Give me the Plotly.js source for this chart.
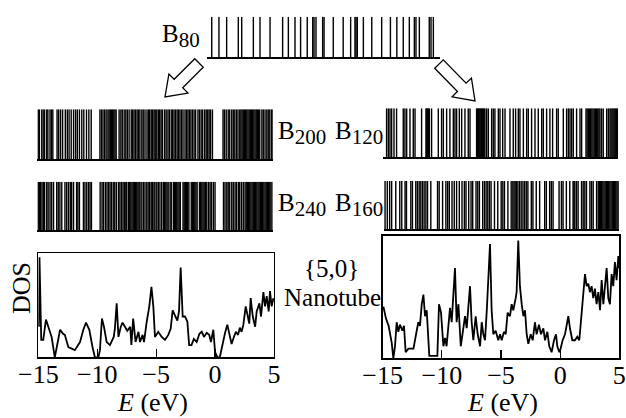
<!DOCTYPE html>
<html>
<head>
<meta charset="utf-8">
<script src="https://cdn.plot.ly/plotly-3.0.1.min.js"></script>
<style>html,body{margin:0;padding:0;background:#fff}#chart{width:626px;height:418px}</style>
</head>
<body>
<div id="chart"></div>
<script>
// ---------------- data (energies in eV) ----------------
const levelsB80 = [-14.57,-13.95,-13.29,-12.29,-12.0,-11.0,-10.43,-9.57,-8.49,-8.0,-7.43,-6.95,-6.38,-5.91,-5.8,-5.63,
  -5.06,-4.94,-4.15,-3.3,-2.66,-2.29,-2.2,-2.09,-1.57,-0.85,0.0,0.75,1.3,1.85,2.37,2.8,2.94,3.23,4.08,4.23,4.43];

const levelsB200 = [-14.92,-14.82,-14.62,-14.5,-14.38,-14.2,-14.1,-13.92,-13.8,-13.68,
  -13.32,-13.18,-13.02,-12.85,-12.62,-12.45,-12.3,-12.12,-11.92,-11.75,-11.6,-11.42,-11.22,-11.05,-10.82,-10.62,-10.42,
  -9.68,-9.55,-9.42,-9.28,-9.15,-9.0,-8.9,-8.8,-8.7,-8.6,-8.5,-8.4,-8.3,
  -8.05,-7.9,-7.78,-7.62,-7.48,-7.35,-7.2,
  -7.02,-6.9,-6.78,-6.65,-6.52,-6.4,-6.28,
  -6.12,-6.0,-5.85,
  -5.68,-5.55,-5.45,-5.32,-5.2,-5.08,-4.98,-4.85,-4.72,-4.6,-4.48,-4.36,
  -4.18,-4.05,-3.9,-3.78,
  -3.62,-3.5,-3.38,-3.25,-3.12,-3.0,-2.88,-2.75,-2.62,
  -2.45,-2.32,-2.2,-2.08,-1.95,-1.82,-1.68,-1.55,
  -1.35,-1.22,-1.08,-0.95,
  -0.78,-0.65,-0.52,-0.4,-0.28,-0.12,
  0.78,0.9,1.05,1.22,1.35,
  1.52,1.65,1.78,1.92,2.05,
  2.2,2.3,2.4,2.5,2.6,2.7,2.8,2.9,3.0,3.1,3.2,3.3,3.4,3.5,3.6,3.7,3.8,3.9,
  4.08,4.2,4.35,4.5,4.62,4.75,4.9,4.98];

const levelsB240 = [-14.92,-14.82,-14.72,-14.6,-14.48,-14.38,-14.2,-14.08,-13.92,-13.78,-13.62,-13.35,-13.22,-13.08,-12.92,
  -12.65,-12.5,-12.35,-12.2,-12.08,-11.92,-11.66,-11.55,-11.42,-11.08,-10.95,-10.8,-10.65,-10.52,-10.4,
  -9.66,-9.5,-9.38,-9.22,-9.08,-8.95,-8.82,-8.7,-8.55,-8.42,-8.28,
  -8.1,-7.98,-7.85,-7.72,-7.6,-7.48,-7.4,
  -7.25,-7.15,-7.05,-6.95,-6.85,-6.75,-6.65,-6.55,-6.45,-6.35,-6.27,
  -6.12,-5.98,-5.85,
  -5.7,-5.58,-5.45,-5.32,-5.2,-5.08,-5.0,
  -4.85,-4.72,-4.58,-4.43,
  -4.28,-4.18,-4.08,-3.98,-3.88,
  -3.72,-3.62,
  -3.44,-3.35,-3.25,-3.15,-3.05,-2.95,-2.85,-2.62,-2.52,-2.42,-2.32,-2.22,-2.12,-1.92,-1.82,-1.72,-1.62,-1.52,-1.42,-1.22,-1.12,-1.02,-0.92,
  -0.82,-0.7,-0.6,
  -0.45,-0.32,-0.2,
  -0.04,0.1,
  0.82,0.95,1.1,1.22,1.35,
  1.52,1.65,1.8,1.92,
  2.08,2.2,2.35,2.5,
  2.65,2.75,2.85,2.95,3.05,3.15,3.25,3.35,3.45,3.55,3.65,3.75,3.85,3.95,4.05,4.15,
  4.25,4.35,4.45,4.55,4.65,4.75,4.85,4.95];

const levelsB120 = [-14.72,-14.57,-14.43,-14.29,-14.09,-13.87,-13.3,-13.16,-13.01,-12.73,-12.45,-12.3,-11.74,
  -11.37,-11.3,-11.23,-11.15,-11.08,-10.89,-10.32,-10.04,-9.89,-9.61,-9.33,-9.04,-8.9,-8.76,-8.53,-8.33,-8.05,-7.77,-7.62,
  -7.06,-6.98,-6.91,-6.84,-6.77,-6.7,-6.63,-6.56,-6.49,-6.42,-6.35,-6.2,-6.06,-5.78,-5.64,-5.5,-5.21,-5.07,-4.84,-4.64,
  -4.22,-3.94,-3.74,-3.51,-3.37,-3.08,-2.8,-2.66,-2.38,-2.09,-1.81,-1.52,-1.38,-1.1,-0.82,-0.59,-0.25,-0.11,
  0.32,0.6,0.75,0.89,1.03,1.17,1.45,1.74,1.88,
  2.25,2.35,2.45,2.55,2.65,2.75,2.85,2.95,3.05,3.15,3.25,3.35,3.44,3.58,3.72,4.01,4.15,
  4.29,4.38,4.47,4.56,4.65,4.74,4.83,4.92];

const levelsB160 = [-14.91,-14.72,-14.52,-14.35,-14.0,-13.66,-13.49,-13.21,-13.09,-12.72,-12.58,
  -12.3,-12.16,-12.01,-11.87,-11.73,-11.59,-11.44,-11.3,-11.02,-10.45,-10.31,-10.02,-9.74,-9.59,-9.45,-9.22,-9.03,
  -8.83,-8.6,-8.37,-8.17,-8.03,-7.8,-7.6,-7.46,-7.18,-7.03,-6.89,-6.61,-6.46,-6.32,-6.18,-6.04,-5.9,-5.61,-5.33,
  -5.04,-4.9,-4.76,-4.47,-4.19,-4.05,-3.95,-3.85,-3.74,-3.62,-3.48,-3.34,-3.19,-3.05,-2.91,-2.77,-2.48,-2.34,
  -2.06,-1.77,-1.34,-1.2,-0.92,-0.78,-0.63,-0.12,0.08,0.22,0.5,0.79,1.07,1.15,1.22,1.36,1.5,1.79,1.93,2.07,2.21,
  2.5,2.64,2.78,3.07,3.21,3.3,3.4,3.5,3.6,3.7,3.8,3.9,4.0,4.1,4.2,4.3,4.4,4.5,4.6,4.7,4.8,4.9];

const dosLeftE = [-14.95,-14.9,-14.75,-14.58,-14.35,-14.15,-13.87,-13.6,-13.3,-13.15,-12.9,-12.75,-12.45,-11.9,-11.46,-11.18,
  -10.95,-10.67,-10.4,-10.2,-9.9,-9.77,-9.6,-9.43,-9.2,-8.92,-8.6,-8.5,-8.35,-8.2,-8.0,-7.85,-7.65,-7.45,-7.2,-7.1,-6.95,
  -6.75,-6.5,-6.37,-6.15,-6.03,-5.8,-5.58,-5.4,-5.24,-5.1,-4.82,-4.53,-4.25,-3.97,-3.77,-3.6,-3.4,-3.2,-3.06,-2.92,-2.75,
  -2.55,-2.35,-2.2,-2.0,-1.8,-1.56,-1.33,-1.13,-0.94,-0.71,-0.5,-0.35,-0.15,0.0,0.2,0.4,0.65,0.85,1.04,1.27,1.4,1.6,1.77,
  1.95,2.1,2.25,2.4,2.6,2.74,2.9,3.02,3.2,3.4,3.53,3.76,3.9,4.1,4.24,4.38,4.55,4.66,4.8,4.95];
const dosLeft = [0.3,0.98,0.17,0.17,0.37,0.3,0.2,0.0,0.2,0.27,0.23,0.22,0.1,0.07,0.15,0.27,
  0.34,0.27,0.1,0.0,0.0,0.07,0.38,0.3,0.15,0.12,0.2,0.28,0.53,0.2,0.3,0.34,0.3,0.26,0.3,0.12,0.38,
  0.15,0.25,0.15,0.22,0.15,0.35,0.5,0.69,0.5,0.2,0.25,0.2,0.17,0.22,0.28,0.46,0.4,0.36,0.45,0.88,0.4,
  0.4,0.35,0.12,0.12,0.18,0.15,0.23,0.25,0.2,0.24,0.22,0.15,0.27,0.05,0.0,0.0,0.15,0.24,0.32,0.2,0.13,0.2,0.25,
  0.22,0.29,0.25,0.32,0.5,0.4,0.33,0.58,0.4,0.3,0.45,0.53,0.4,0.64,0.5,0.6,0.45,0.65,0.5,0.58];

const dosRightE = [-14.94,-14.72,-14.5,-14.38,-14.24,-14.1,-13.96,-13.82,-13.68,-13.54,-13.34,-13.2,-13.06,-12.83,-12.4,-12.18,
  -11.99,-11.85,-11.7,-11.56,-11.42,-11.28,-11.14,-11.06,-10.72,-10.38,-10.24,-10.07,-9.87,-9.73,-9.6,-9.31,-9.17,-9.03,
  -8.89,-8.75,-8.6,-8.4,-8.24,-8.04,-7.9,-7.76,-7.62,-7.48,-7.34,-7.14,-6.97,-6.77,-6.63,-6.49,-6.35,-6.2,-6.04,-5.93,
  -5.79,-5.65,-5.45,-5.23,-5.08,-4.94,-4.75,-4.6,-4.44,-4.24,-4.1,-3.96,-3.76,-3.68,-3.54,-3.4,-3.25,-3.11,-2.97,-2.83,
  -2.69,-2.49,-2.32,-2.13,-1.99,-1.79,-1.62,-1.42,-1.28,-1.08,-0.92,-0.72,-0.52,-0.35,-0.24,-0.07,0.04,0.21,0.41,0.55,
  0.69,0.83,1.03,1.25,1.45,1.62,1.82,1.96,2.1,2.24,2.38,2.52,2.66,2.8,2.94,3.08,3.23,3.37,3.51,3.65,3.79,3.93,4.07,
  4.21,4.35,4.49,4.63,4.77,4.92,5.0];
const dosRight = [0.43,0.33,0.27,0.2,0.13,0.0,0.1,0.3,0.22,0.28,0.23,0.27,0.05,0.08,0.08,0.2,
  0.3,0.27,0.45,0.53,0.35,0.4,0.2,0.02,0.02,0.02,0.45,0.38,0.1,0.17,0.1,0.42,0.3,0.5,
  0.75,0.3,0.45,0.1,0.2,0.35,0.25,0.4,0.6,0.3,0.15,0.35,0.2,0.1,0.3,0.2,0.15,0.4,0.8,0.95,
  0.4,0.2,0.23,0.15,0.2,0.15,0.22,0.2,0.38,0.35,0.45,0.4,0.5,0.55,0.98,0.6,0.45,0.35,0.4,0.2,
  0.12,0.2,0.15,0.3,0.2,0.28,0.2,0.25,0.15,0.22,0.1,0.05,0.15,0.2,0.1,0.05,0.08,0.15,0.2,0.28,
  0.35,0.25,0.15,0.15,0.18,0.15,0.4,0.5,0.7,0.6,0.62,0.55,0.6,0.5,0.58,0.45,0.55,0.4,0.65,0.45,0.6,0.75,0.5,
  0.45,0.7,0.6,0.8,0.65,0.85,0.75];

const tickVals = [-15,-10,-5,0,5];
const tickText = ['\u221215','\u221210','\u22125','0','5'];

// ---------------- build ----------------
const W = 626, H = 418;
const FONT = 'Liberation Serif, Times New Roman, serif';
const px = v => v / W, py = v => 1 - v / H;

function barcode(levels, xa, ya) {
  const x = [], y = [];
  levels.forEach(e => { x.push(e, e, null); y.push(0, 1, null); });
  return {type:'scatter', mode:'lines', x, y, xaxis:xa, yaxis:ya,
          line:{color:'black', width:1.4}, hoverinfo:'skip', showlegend:false};
}
function dosTrace(E, d, xa, ya) {
  return {type:'scatter', mode:'lines', x:E, y:d, xaxis:xa, yaxis:ya,
          line:{color:'black', width:1.8}, hoverinfo:'skip', showlegend:false};
}
const traces = [
  barcode(levelsB80, 'x', 'y'),
  barcode(levelsB200, 'x2', 'y2'),
  barcode(levelsB240, 'x3', 'y3'),
  barcode(levelsB120, 'x4', 'y4'),
  barcode(levelsB160, 'x5', 'y5'),
  dosTrace(dosLeftE, dosLeft, 'x6', 'y6'),
  dosTrace(dosRightE, dosRight, 'x7', 'y7')
];

function bcX(x0, x1, ya) {
  return {domain:[px(x0), px(x1)], range:[-15,5], anchor:ya, showline:true, linecolor:'black', linewidth:1.5,
          showticklabels:false, ticks:'', showgrid:false, zeroline:false};
}
function bcY(top, bot, xa) {
  return {domain:[py(bot), py(top)], range:[0,1], anchor:xa, visible:false};
}
function dosX(x0, x1, ya) {
  return {domain:[px(x0), px(x1)], range:[-15,5], anchor:ya, showline:true, mirror:true, linecolor:'black', linewidth:1.3,
          ticks:'inside', ticklen:8, tickwidth:1.2, tickcolor:'black', tickvals:tickVals, ticktext:tickText,
          tickfont:{family:FONT, size:26, color:'black'}, ticklabelstandoff:-7, showgrid:false, zeroline:false};
}
function dosY(top, bot, xa) {
  return {domain:[py(bot), py(top)], range:[0,1.02], anchor:xa, showline:true, mirror:true, linecolor:'black', linewidth:1.3,
          ticks:'', showticklabels:false, showgrid:false, zeroline:false};
}

function arrowPath(tx, ty, hx, hy) {
  const dx = hx - tx, dy = hy - ty, L = Math.hypot(dx, dy);
  const ux = dx / L, uy = dy / L, nx = -uy, ny = ux;
  const sw = 6, hw = 13.5, hl = 19;
  const bx = hx - ux * hl, by = hy - uy * hl;
  const pts = [
    [tx + nx*sw, ty + ny*sw], [bx + nx*sw, by + ny*sw], [bx + nx*hw, by + ny*hw], [hx, hy],
    [bx - nx*hw, by - ny*hw], [bx - nx*sw, by - ny*sw], [tx - nx*sw, ty - ny*sw]
  ];
  return 'M ' + pts.map(p => px(p[0]).toFixed(5) + ' ' + py(p[1]).toFixed(5)).join(' L ') + ' Z';
}

const ann = (x, y, text, size, extra) => Object.assign({x:px(x), y:py(y), xref:'paper', yref:'paper', text,
  showarrow:false, xanchor:'center', yanchor:'middle', borderpad:0, font:{family:FONT, size:size, color:'black'}}, extra || {});
const bLabel = (name, sub) => name + '<sub><span style="font-size:21px">' + sub + '</span></sub>';

const layout = {
  width:W, height:H, margin:{l:0, r:0, t:0, b:0}, paper_bgcolor:'white', plot_bgcolor:'white', showlegend:false,
  xaxis: bcX(206.7, 440, 'y'),   yaxis: bcY(16.7, 57.3, 'x'),
  xaxis2: bcX(37.3, 272.7, 'y2'), yaxis2: bcY(109.3, 159.3, 'x2'),
  xaxis3: bcX(37.3, 272.7, 'y3'), yaxis3: bcY(181.7, 230, 'x3'),
  xaxis4: bcX(383.3, 618.3, 'y4'), yaxis4: bcY(108.3, 157.3, 'x4'),
  xaxis5: bcX(384, 619.3, 'y5'), yaxis5: bcY(181, 229.3, 'x5'),
  xaxis6: dosX(38.3, 274, 'y6'), yaxis6: dosY(253.3, 357.3, 'x6'),
  xaxis7: dosX(382.7, 619.3, 'y7'), yaxis7: dosY(235.7, 358.3, 'x7'),
  shapes: [
    {type:'path', xref:'paper', yref:'paper', path:arrowPath(199, 63, 165, 97), line:{color:'black', width:1.3}, fillcolor:'white'},
    {type:'path', xref:'paper', yref:'paper', path:arrowPath(439, 64, 475, 101), line:{color:'black', width:1.3}, fillcolor:'white'}
  ],
  annotations: [
    ann(161, 36, bLabel('B', '80'), 25, {xanchor:'left'}),
    ann(277, 133, bLabel('B', '200'), 25, {xanchor:'left'}),
    ann(334, 133, bLabel('B', '120'), 25, {xanchor:'left'}),
    ann(277, 205, bLabel('B', '240'), 25, {xanchor:'left'}),
    ann(334, 205, bLabel('B', '160'), 25, {xanchor:'left'}),
    ann(331, 268, '{5,0}', 25),
    ann(332, 297, 'Nanotube', 25),
    ann(21, 288, 'DOS', 26, {textangle:-90}),
    ann(152, 418, '<i>E</i> (eV)', 26, {yanchor:'bottom'}),
    ann(502, 418, '<i>E</i> (eV)', 26, {yanchor:'bottom'})
  ]
};

Plotly.newPlot('chart', traces, layout, {staticPlot:true, displayModeBar:false});
</script>
</body>
</html>
